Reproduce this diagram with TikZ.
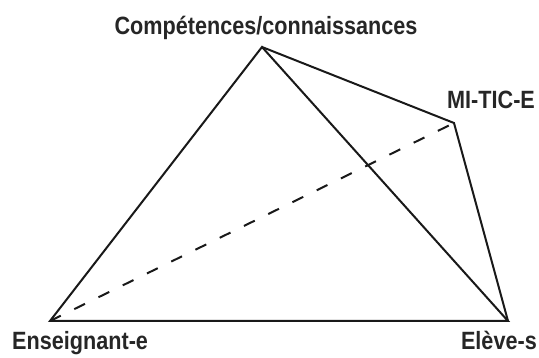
\documentclass[tikz,border=0pt]{standalone}
\usepackage{fontspec}
\newfontfamily\condfont[FakeStretch=0.865]{Liberation Sans}
\begin{document}
\begin{tikzpicture}[x=1pt,y=-1pt,
  edge/.style={line width=2pt, line join=miter, color=black!90},
  dashededge/.style={line width=2pt, dash pattern=on 12pt off 15pt, color=black!90},
  lbl/.style={font=\condfont\bfseries\fontsize{25}{25}\selectfont, text=black!85, inner sep=0pt}]
\useasboundingbox (0,0) rectangle (539,358);
\coordinate (A) at (262,47);
\coordinate (M) at (454,123);
\coordinate (L) at (50,321);
\coordinate (R) at (508,321);
\draw[dashededge] (L) -- (M);
\draw[edge] (L) -- (A) -- (R) -- cycle;
\draw[edge] (A) -- (M) -- (R);
\node[lbl, anchor=base] (tA) at (266,35) {Compétences/connaissances};
\node[lbl, anchor=base west] (tM) at (447,109) {MI-TIC-E};
\node[lbl, anchor=base west] (tL) at (12,350) {Enseignant-e};
\node[lbl, anchor=base east] (tR) at (537,350) {Elève-s};
\end{tikzpicture}
\end{document}
